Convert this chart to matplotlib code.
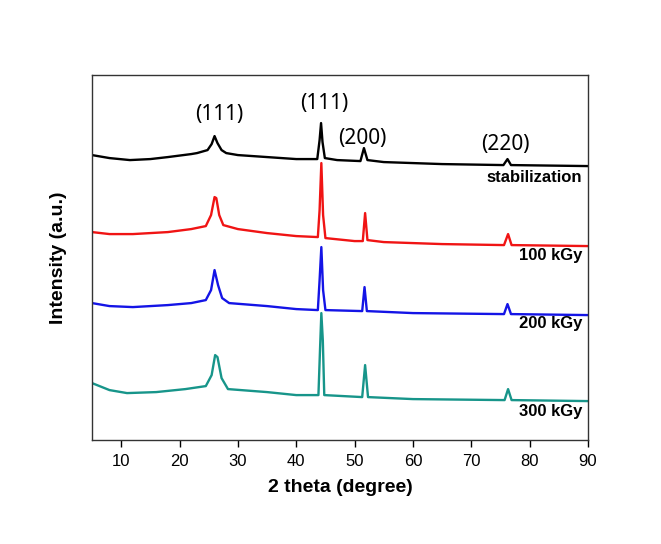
import matplotlib
matplotlib.use("Agg")
import matplotlib.pyplot as plt

# XRD patterns (2 theta in degree, intensity in a.u.)
STAB_X = [5, 8, 11.5, 15, 18, 22, 23, 24.8, 25.5, 26.0, 26.5, 27.2, 28, 30, 35, 40, 43.6,
          44.0, 44.25, 44.5, 44.9, 47, 51.0, 51.6, 52.2, 55, 65, 75.5, 76.2, 76.8, 90]
STAB_Y = [285, 282, 280, 281, 283, 286, 287, 290, 296, 304, 297, 290, 287, 285, 283, 281, 281,
          300, 317, 298, 282, 280, 279, 292, 280, 278, 276, 275, 281, 275, 274]

K100_X = [5, 8, 12, 18, 22, 24.5, 25.4, 26.0, 26.3, 26.8, 27.5, 30, 35, 40, 43.7,
          44.0, 44.3, 44.6, 45, 50, 51.4, 51.8, 52.2, 55, 65, 75.6, 76.3, 76.9, 90]
K100_Y = [208, 206, 206, 208, 211, 214, 225, 243, 242, 225, 215, 211, 207, 204, 203,
          230, 277, 225, 202, 199, 199, 227, 200, 198, 196, 195, 206, 195, 194]

K200_X = [5, 8, 12, 18, 22, 24.5, 25.4, 26.0, 26.6, 27.3, 28.5, 35, 40, 43.7,
          44.0, 44.3, 44.6, 45, 51.3, 51.7, 52.1, 60, 75.6, 76.2, 76.8, 90]
K200_Y = [137, 134, 133, 135, 137, 140, 150, 170, 155, 142, 137, 134, 131, 130,
          160, 193, 150, 130, 129, 153, 129, 127, 126, 136, 126, 125]

K300_X = [5, 8, 11, 16, 21, 24.5, 25.5, 26.1, 26.5, 27.2, 28.3, 35, 40, 43.8,
          44.1, 44.3, 44.55, 44.8, 51.3, 51.8, 52.3, 60, 75.7, 76.3, 76.9, 90]
K300_Y = [57, 50, 47, 48, 51, 54, 65, 85, 83, 62, 51, 48, 45, 45,
          95, 127, 100, 45, 43, 75, 43, 41, 40, 51, 40, 39]

SERIES = [("stabilization", STAB_X, STAB_Y, "#000000", 263),
          ("100 kGy", K100_X, K100_Y, "#f01414", 185),
          ("200 kGy", K200_X, K200_Y, "#1414e6", 117),
          ("300 kGy", K300_X, K300_Y, "#17958a", 29)]

PEAK_LABELS = ["(111)", "(111)", "(200)", "(220)"]
PEAK_POS = [(26.8, 326), (44.8, 337), (51.3, 302), (75.9, 296)]

fig = plt.figure(figsize=(6.61, 5.44), dpi=100, facecolor="white")
ax = fig.add_axes([0.1392, 0.191, 0.7504, 0.671])

for name, xs, ys, col, ylab in SERIES:
    ax.plot(xs, ys, color=col, lw=1.7, solid_joinstyle="round")
    ax.text(89.0, ylab, name, ha="right", va="center", fontsize=12,
            fontweight="bold", family="Liberation Sans")

for lab, (px, py) in zip(PEAK_LABELS, PEAK_POS):
    ax.text(px, py, lab, ha="center", va="center", fontsize=15, family="Noto Sans")

ax.set_xlim(5, 90)
ax.set_ylim(0, 365)
ax.set_xticks(range(10, 91, 10))
ax.set_yticks([])
ax.tick_params(axis="x", direction="out", length=5, width=1, labelsize=12, pad=5)
for t in ax.get_xticklabels():
    t.set_family("Liberation Sans")
for s in ax.spines.values():
    s.set_linewidth(1.0)
    s.set_color("#333333")

ax.set_xlabel("2 theta (degree)", fontsize=14, fontweight="bold",
              family="Liberation Sans", labelpad=7)
ax.set_ylabel("Intensity (a.u.)", fontsize=14, fontweight="bold",
              family="Liberation Sans", labelpad=18)

fig.savefig("out.png", dpi=100, facecolor="white")
